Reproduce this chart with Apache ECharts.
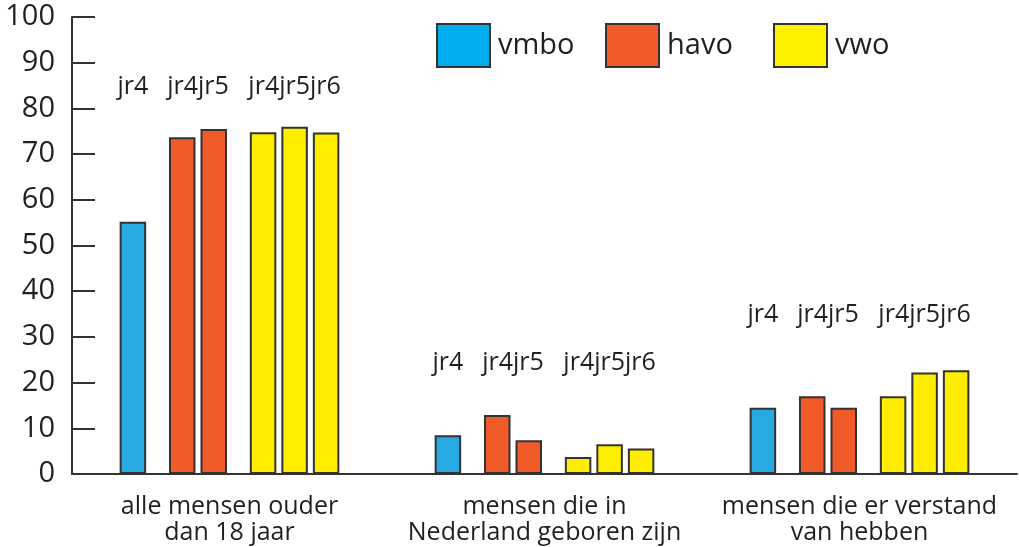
<!DOCTYPE html>
<html>
<head>
<meta charset="utf-8">
<script src="https://cdn.jsdelivr.net/npm/echarts@6/dist/echarts.min.js"></script>
<style>
  html, body { margin: 0; padding: 0; background: #fff; }
  #chart { width: 1019px; height: 547px; }
</style>
</head>
<body>
<div id="chart"></div>
<script>
// data
const categories = [
  "alle mensen ouder\ndan 18 jaar",
  "mensen die in\nNederland geboren zijn",
  "mensen die er verstand\nvan hebben",
];
const vmboJr4 = [55.2, 8.5, 14.5];
const havoJr4 = [73.7, 12.9, 17.0];
const havoJr5 = [75.5, 7.4, 14.5];
const vwoJr4 = [74.8, 3.7, 17.0];
const vwoJr5 = [76.0, 6.5, 22.2];
const vwoJr6 = [74.7, 5.6, 22.7];
const yearLabels = ["jr4", "jr4jr5", "jr4jr5jr6"];
const yearLabelLevel = [84.8, 24.3, 34.8];

const FONT = "Open Sans";
const TEXT = "#231F20";
const LINE = "#333333";
const COLORS = { vmbo: "#27AAE1", havo: "#F15A29", vwo: "#FFED00" };

// bar layout inside a category: bars of BAR_W, blank spacers between school types
const BAR_W = 26.5;
const SPACER_W = 15;
const GAP_PCT = 0.189;
const slotWidths = [BAR_W, SPACER_W, BAR_W, BAR_W, SPACER_W, BAR_W, BAR_W, BAR_W];

// centre of each slot relative to category centre (same maths as echarts bar layout)
function slotCenters() {
  let sum = 0;
  slotWidths.forEach((w) => (sum += w * (1 + GAP_PCT)));
  sum -= slotWidths[slotWidths.length - 1] * GAP_PCT;
  let off = -sum / 2;
  return slotWidths.map((w) => {
    const c = off + w / 2;
    off += w * (1 + GAP_PCT);
    return c;
  });
}
const centers = slotCenters();
const labelOffsets = [centers[0], (centers[2] + centers[3]) / 2, centers[6]];

function bar(name, data, color) {
  return {
    type: "bar",
    name,
    data,
    barWidth: BAR_W,
    barGap: GAP_PCT * 100 + "%",
    itemStyle: { color, borderColor: LINE, borderWidth: 2 },
    silent: true,
  };
}

function spacer(name) {
  return {
    type: "bar",
    name,
    data: ["-", "-", "-"],
    barWidth: SPACER_W,
    barGap: GAP_PCT * 100 + "%",
    silent: true,
  };
}

function legendFor(name, left, color, pad) {
  return {
    left,
    top: 23,
    padding: 0,
    itemWidth: 53,
    itemHeight: 43,
    icon: "rect",
    selectedMode: false,
    data: [{ name, itemStyle: { color, borderColor: LINE, borderWidth: 2 } }],
    textStyle: { fontFamily: FONT, fontSize: 29, color: TEXT, padding: pad },
  };
}

const chart = echarts.init(document.getElementById("chart"), null, { renderer: "canvas" });

chart.setOption({
  animation: false,
  backgroundColor: "#fff",
  grid: { left: 72, right: 2, top: 17, bottom: 73, containLabel: false },
  legend: [
    legendFor("vmbo", 436, "#00AEEF", [0, 0, 0, 3]),
    legendFor("havo", 605, COLORS.havo, [0, 0, 6, 3]),
    legendFor("vwo", 773, "#FFF200", [6, 0, 0, 3]),
  ],
  xAxis: {
    type: "category",
    data: categories,
    axisLine: { lineStyle: { color: LINE, width: 2 } },
    axisTick: { inside: true, length: 10, lineStyle: { color: LINE, width: 2 } },
    axisLabel: {
      interval: 0,
      margin: 20,
      fontFamily: FONT,
      fontSize: 25,
      lineHeight: 26,
      color: TEXT,
    },
    splitLine: { show: false },
  },
  yAxis: {
    type: "value",
    min: 0,
    max: 100,
    interval: 10,
    axisLine: { show: true, lineStyle: { color: LINE, width: 2 } },
    axisTick: { show: true, inside: true, length: 23, lineStyle: { color: LINE, width: 2 } },
    axisLabel: {
      margin: 17,
      fontFamily: FONT,
      fontSize: 29,
      color: TEXT,
      padding: [12, 0, 0, 0],
    },
    splitLine: { show: false },
  },
  series: [
    bar("vmbo", vmboJr4, COLORS.vmbo),
    spacer("_gap1"),
    bar("havo", havoJr4, COLORS.havo),
    bar("havo", havoJr5, COLORS.havo),
    spacer("_gap2"),
    bar("vwo", vwoJr4, COLORS.vwo),
    bar("vwo", vwoJr5, COLORS.vwo),
    bar("vwo", vwoJr6, COLORS.vwo),
    {
      type: "custom",
      name: "_years",
      silent: true,
      z: 10,
      data: yearLabelLevel.map((v, i) => [i, v]),
      encode: { x: 0, y: 1 },
      renderItem(params, api) {
        const p = api.coord([api.value(0), api.value(1)]);
        return {
          type: "group",
          children: yearLabels.map((t, k) => ({
            type: "text",
            x: p[0] + labelOffsets[k],
            y: p[1],
            style: {
              text: t,
              fill: TEXT,
              fontFamily: FONT,
              fontSize: 25,
              align: "center",
              verticalAlign: "middle",
            },
          })),
        };
      },
    },
  ],
});
</script>
</body>
</html>
